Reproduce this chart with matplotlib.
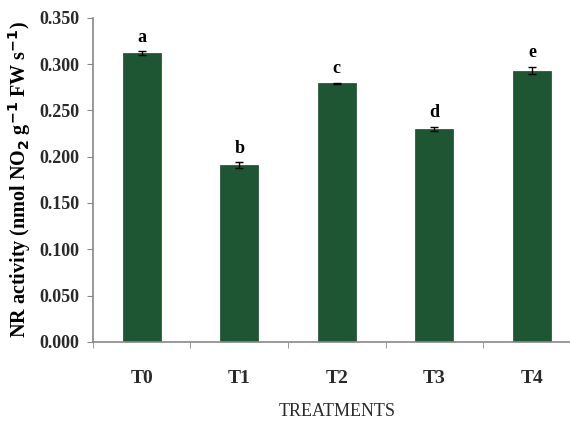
import numpy as np
import matplotlib
matplotlib.use("Agg")
import matplotlib.pyplot as plt

# data
treatments = ["T0", "T1", "T2", "T3", "T4"]
nr_activity = [0.312, 0.191, 0.279, 0.230, 0.293]
nr_err = [0.002, 0.003, 0.001, 0.002, 0.004]
letters = ["a", "b", "c", "d", "e"]
yticks = [0.0, 0.05, 0.10, 0.15, 0.20, 0.25, 0.30, 0.35]

plt.rcParams['font.family'] = ['Liberation Serif', 'DejaVu Serif']

fig = plt.figure(figsize=(5.7, 4.22), dpi=100)
ax = fig.add_axes([0.163, 0.19, 0.856, 0.768])

x = np.arange(len(treatments))
ax.bar(x, nr_activity, width=0.39, color="#1e5634", edgecolor="#1a4a2d", linewidth=0.5,
       yerr=nr_err, capsize=3, error_kw=dict(ecolor="black", elinewidth=1, capthick=1))

for xi, v, e, l in zip(x, nr_activity, nr_err, letters):
    ax.text(xi, v + e + 0.006, l, ha="center", va="bottom", fontsize=13, fontweight="bold")

ax.set_xlim(-0.5, 4.5)
ax.set_ylim(0, 0.35)
ax.set_yticks(yticks)
ax.set_yticklabels(["%.3f" % t for t in yticks], fontsize=13, fontweight="bold", color="#2a2a2a")
ax.set_xticks(x)
ax.set_xticklabels(treatments, fontsize=14, fontweight="bold", color="#2a2a2a")
ax.tick_params(axis="x", which="major", length=0, pad=20)
ax.set_xticks(np.arange(-0.5, 4.6, 1.0), minor=True)
ax.tick_params(axis="x", which="minor", length=4, color="#888888", direction="out")
ax.tick_params(axis="y", length=4, color="#888888", direction="out", pad=6)

for s in ["top", "right"]:
    ax.spines[s].set_visible(False)
for s in ["left", "bottom"]:
    ax.spines[s].set_color("#888888")
    ax.spines[s].set_linewidth(1.2)

ax.set_ylabel("NR activity (nmol NO$_\\mathbf{2}$ g$^{\\mathbf{-1}}$ FW s$^{\\mathbf{-1}}$)",
              fontsize=14.5, fontweight="bold", labelpad=4)
ax.set_xlabel("TREATMENTS", fontsize=13, labelpad=12, color="#2a2a2a")

fig.savefig("out.png", dpi=100)
